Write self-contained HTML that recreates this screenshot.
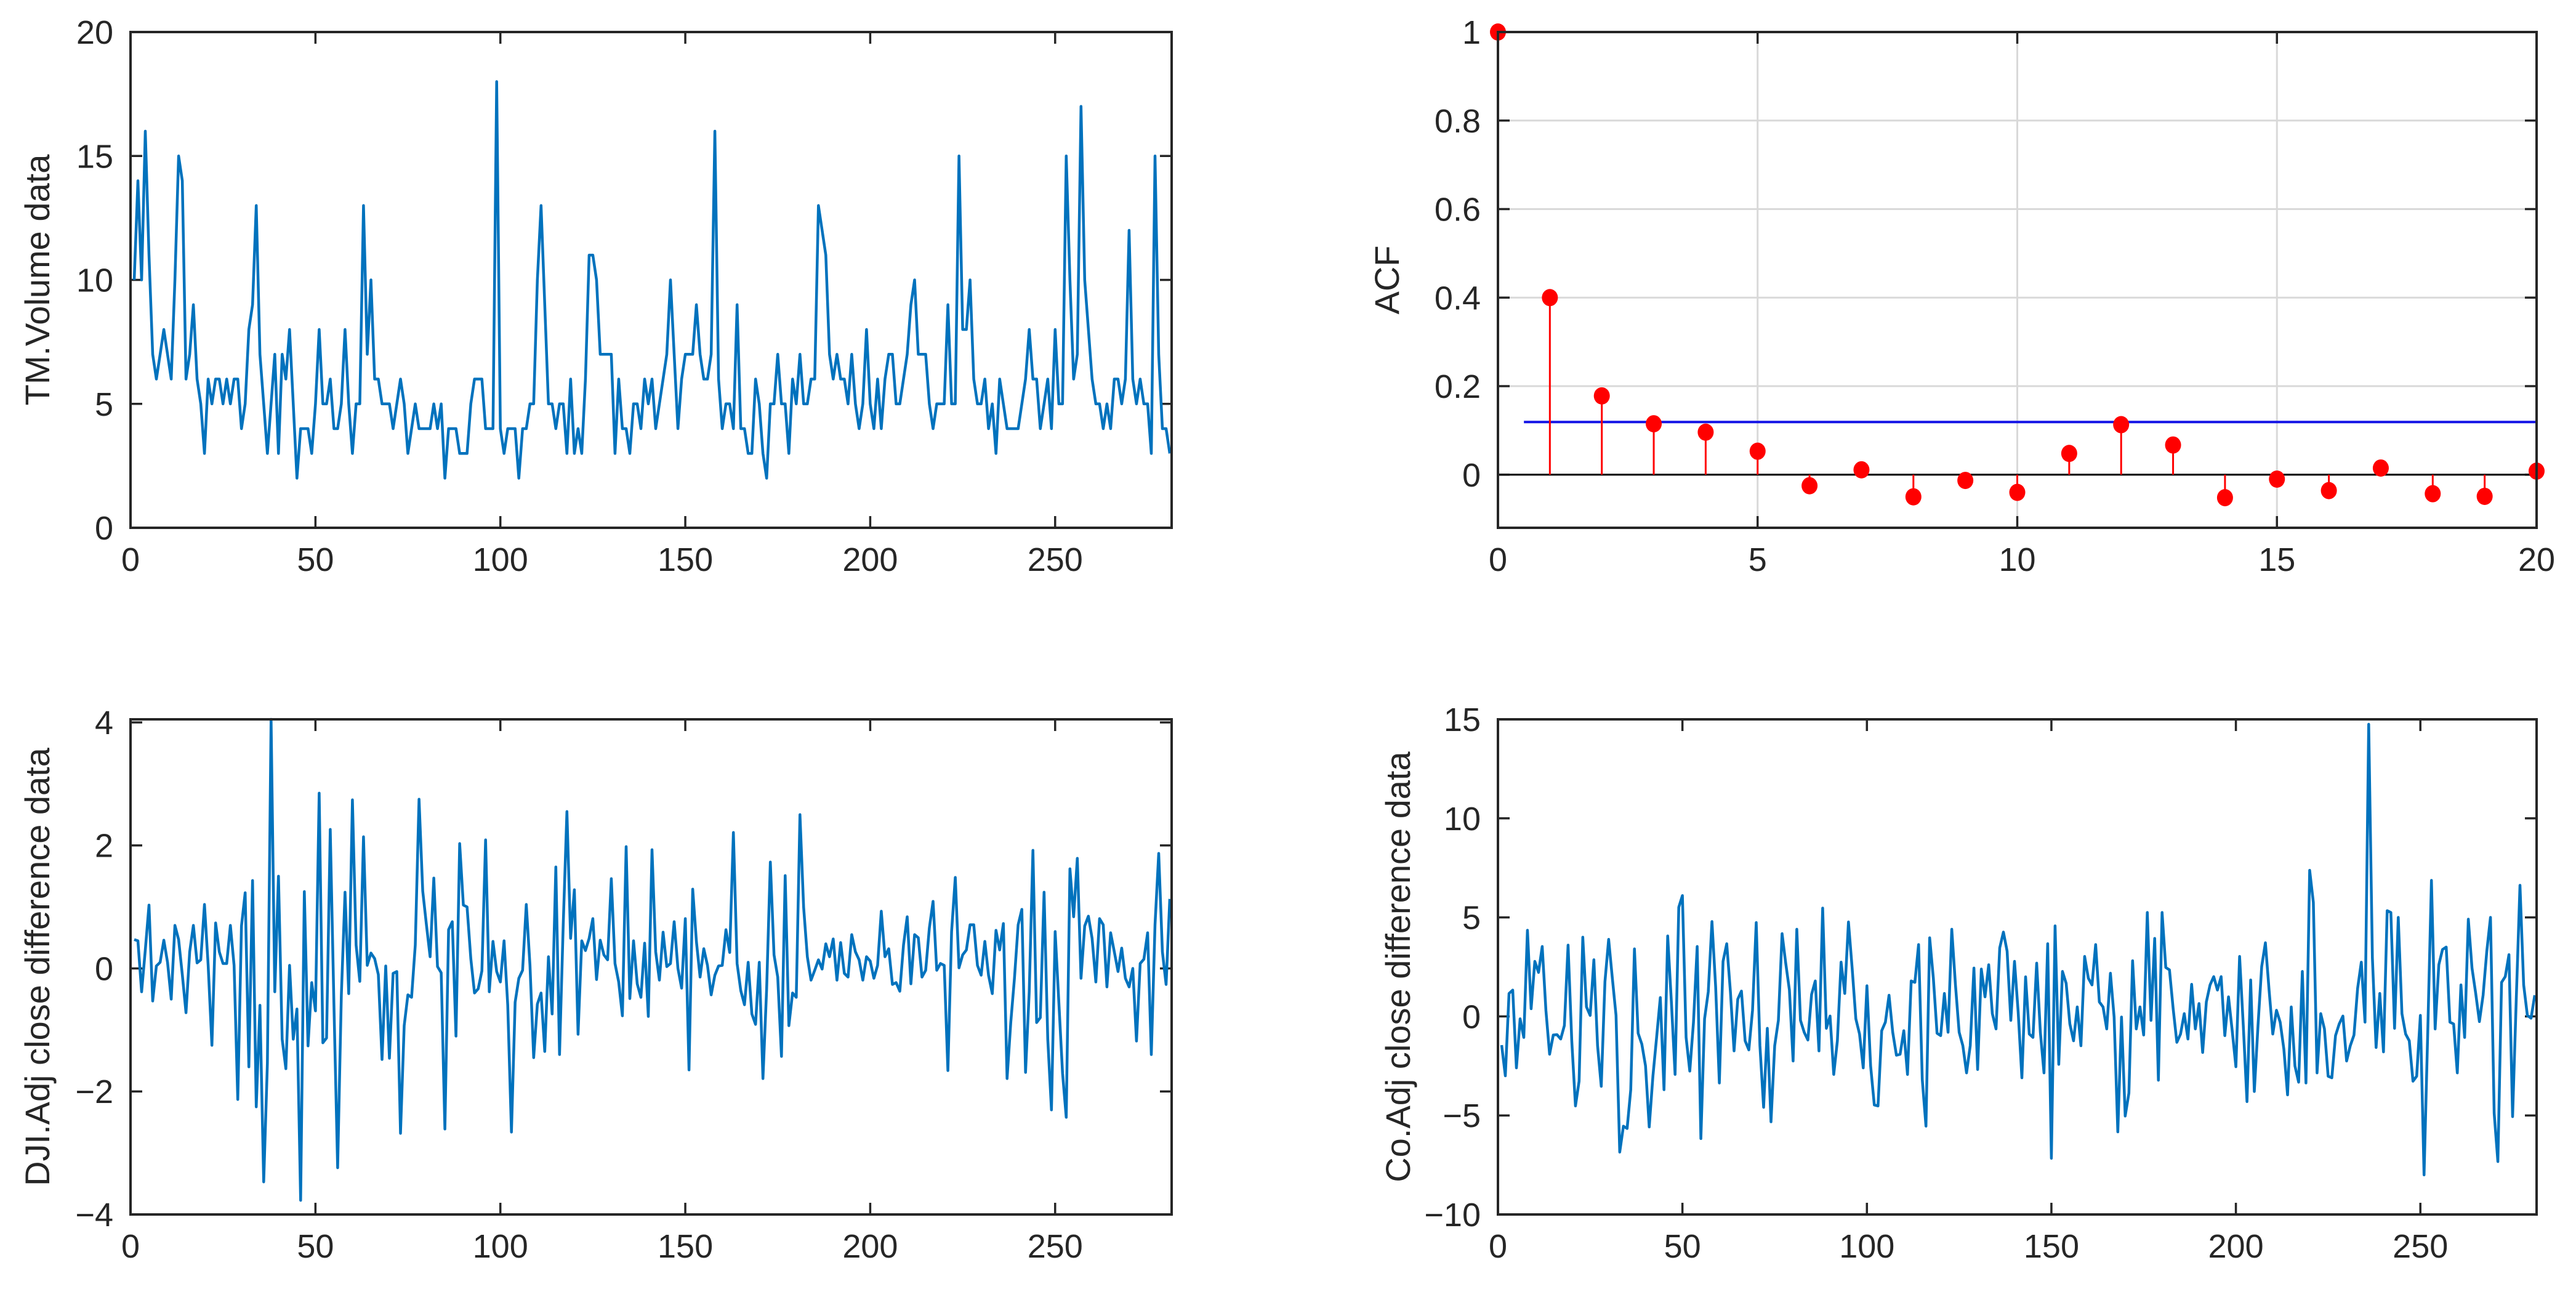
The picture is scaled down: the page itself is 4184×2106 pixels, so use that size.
<!DOCTYPE html>
<html><head><meta charset="utf-8"><style>
html,body{margin:0;padding:0;background:#fff;}
svg{display:block;}
text{font-family:"Liberation Sans",Arial,sans-serif;fill:#262626;}
</style></head><body>
<svg id="fig" width="4184" height="2106" viewBox="0 0 4184 2106" xmlns="http://www.w3.org/2000/svg">
<rect x="0" y="0" width="4184" height="2106" fill="#fff"/>
</svg>
<script>
// ---- data ----
const tmVolume = [10,14,10,16,11,7,6,7,8,7,6,10,15,14,6,7,9,6,5,3,6,5,6,6,5,6,5,6,6,4,5,8,9,13,7,5,3,5,7,3,7,6,8,5,2,4,4,4,3,5,8,5,5,6,4,4,5,8,5,3,5,5,13,7,10,6,6,5,5,5,4,5,6,5,3,4,5,4,4,4,4,5,4,5,2,4,4,4,3,3,3,5,6,6,6,4,4,4,18,4,3,4,4,4,2,4,4,5,5,10,13,9,5,5,4,5,5,3,6,3,4,3,6,11,11,10,7,7,7,7,3,6,4,4,3,5,5,4,6,5,6,4,5,6,7,10,7,4,6,7,7,7,9,7,6,6,7,16,6,4,5,5,4,9,4,4,3,3,6,5,3,2,5,5,7,5,5,3,6,5,7,5,5,6,6,13,12,11,7,6,7,6,6,5,7,5,4,5,8,5,4,6,4,6,7,7,5,5,6,7,9,10,7,7,7,5,4,5,5,5,9,5,5,15,8,8,10,6,5,5,6,4,5,3,6,5,4,4,4,4,5,6,8,6,6,4,5,6,4,8,5,5,15,10,6,7,17,10,8,6,5,5,4,5,4,6,6,5,6,12,6,5,6,5,5,3,15,7,4,4,3];
const djiDiff = [0.47,0.45,-0.38,0.3,1.03,-0.53,0.04,0.1,0.46,0.1,-0.5,0.7,0.47,-0.1,-0.72,0.27,0.7,0.09,0.14,1.04,0.05,-1.25,0.74,0.27,0.08,0.08,0.7,0.05,-2.13,0.69,1.23,-1.6,1.43,-2.25,-0.6,-3.47,-1.54,4.05,-0.38,1.5,-1.15,-1.63,0.05,-1.15,-0.66,-3.77,1.25,-1.26,-0.23,-0.69,2.85,-1.21,-1.13,2.26,-0.6,-3.24,-0.44,1.24,-0.41,2.74,0.38,-0.21,2.14,0.05,0.25,0.16,-0.1,-1.48,0.04,-1.46,-0.08,-0.05,-2.68,-0.93,-0.43,-0.47,0.38,2.75,1.26,0.71,0.19,1.47,0.03,-0.07,-2.61,0.63,0.76,-1.1,2.03,1.03,1.0,0.16,-0.4,-0.33,-0.04,2.09,-0.38,0.44,-0.05,-0.22,0.45,-0.6,-2.66,-0.55,-0.16,-0.03,1.04,0.05,-1.45,-0.58,-0.4,-1.35,0.19,-0.74,1.65,-1.4,0.71,2.55,0.49,1.28,-1.07,0.45,0.29,0.49,0.81,-0.18,0.46,0.22,0.14,1.46,0.08,-0.22,-0.77,1.98,-0.49,0.45,-0.25,-0.47,0.41,-0.78,1.93,0.27,-0.19,0.59,0.03,0.08,0.76,0,-0.32,0.81,-1.65,1.29,0.44,-0.14,0.32,0.05,-0.43,-0.11,0.04,0.05,0.63,0.26,2.21,0.08,-0.36,-0.59,0.1,-0.74,-0.91,0.1,-1.79,-0.33,1.73,0.22,-0.14,-1.43,1.51,-0.93,-0.4,-0.47,2.5,0.99,0.19,-0.19,-0.03,0.14,-0.01,0.4,0.19,0.48,-0.19,0.42,-0.08,-0.14,0.55,0.27,0.14,-0.19,0.19,0.12,-0.16,0.05,0.93,0.19,0.32,-0.26,-0.23,-0.37,0.38,0.84,-0.25,0.55,0.5,-0.14,-0.03,0.66,1.09,-0.03,0.08,0.05,-1.66,0.6,1.48,0.01,0.22,0.3,0.71,0.71,0.05,-0.11,0.44,-0.11,-0.41,0.62,0.3,0.73,-1.79,-0.88,-0.16,0.71,0.96,-1.69,-0.38,1.92,-0.88,-0.8,1.24,-1.15,-2.3,0.6,-0.55,-1.7,-2.42,1.62,0.84,1.79,-0.16,0.69,0.85,0.49,-0.22,0.81,0.71,-0.3,0.58,0.27,-0.05,0.33,-0.16,-0.3,0,-1.18,0.08,0.15,0.58,-1.4,0.71,1.87,0.27,-0.26,1.13];
const coDiff = [-1.45,-3.0,1.16,1.33,-2.6,-0.12,-1.06,4.35,0.39,2.78,2.22,3.53,0.31,-1.91,-0.94,-0.92,-1.14,-0.46,3.6,-1.23,-4.52,-3.27,4.0,0.48,0.05,2.86,-1.48,-3.53,1.76,3.89,1.93,0.05,-6.85,-5.54,-5.66,-3.7,3.41,-0.85,-1.4,-2.5,-5.58,-3.02,-1.06,0.95,-3.7,4.06,0.73,-2.93,5.51,6.1,-1.06,-2.76,-0.29,3.53,-6.17,-0.12,1.24,4.79,1.5,-3.36,2.78,3.67,1.24,-1.74,0.87,1.28,-1.23,-1.69,0.31,4.74,-1.48,-4.59,-0.6,-5.32,-1.48,-0.2,4.18,2.69,1.33,-2.25,4.4,-0.2,-0.8,-1.19,1.11,1.79,-1.74,5.47,-0.6,0.02,-2.93,-1.23,2.74,1.16,4.77,2.44,-0.12,-0.89,-2.6,1.55,-2.5,-4.47,-4.52,-0.72,-0.29,1.07,-0.8,-1.96,-1.91,-0.72,-2.93,1.79,1.72,3.63,-3.19,-5.54,3.97,1.93,-0.85,-0.97,1.16,-0.8,4.4,1.59,-0.8,-1.48,-2.85,-1.48,2.44,-2.68,2.39,0.99,2.61,0.14,-0.63,3.46,4.26,3.29,-0.2,2.78,0.2,-3.1,2.0,-0.89,-1.06,2.69,-0.8,-2.85,3.67,-7.16,4.57,-2.42,2.27,1.67,-0.38,-1.23,0.48,-1.48,3.03,1.93,1.59,3.63,0.73,0.48,-0.63,2.18,-0.03,-5.83,-0.03,-5.03,-3.87,2.81,-0.63,0.48,-0.94,5.25,-0.2,3.94,-3.22,5.25,2.47,2.35,0.39,-1.31,-0.89,0.14,-1.14,1.62,-0.63,0.65,-1.82,0.73,1.59,2.01,1.33,2.01,-0.97,0.99,-0.72,-2.54,3.03,-0.46,-4.3,1.84,-3.79,-0.46,2.52,3.72,1.33,-0.89,0.31,-0.29,-1.65,-3.96,0.48,-2.5,-3.32,2.27,-3.36,7.38,5.76,-2.85,0.14,-0.63,-3.02,-3.1,-0.97,-0.38,0.02,-2.25,-1.48,-0.94,1.42,2.74,-0.29,14.75,2.95,-1.57,1.16,-1.79,5.34,5.25,-0.6,5.0,0.14,-0.89,-1.23,-3.27,-3.02,0.05,-8.0,-0.8,6.87,-0.63,2.61,3.38,3.5,-0.29,-0.38,-2.85,1.59,-1.06,4.91,2.44,1.16,-0.26,1.07,3.29,5.0,-4.89,-7.33,1.72,2.01,3.12,-5.06,0.9,6.62,1.59,0.05,-0.09,1.07];
const acfLags = [0,1,2,3,4,5,6,7,8,9,10,11,12,13,14,15,16,17,18,19,20];
const acfValues = [1,0.40,0.178,0.115,0.096,0.053,-0.025,0.011,-0.05,-0.013,-0.04,0.048,0.113,0.067,-0.052,-0.01,-0.036,0.015,-0.043,-0.049,0.008];
const acfBound = 0.119;
const tsXTicks = [0,50,100,150,200,250];
const tmYTicks = [0,5,10,15,20];
const djiYTicks = [-4,-2,0,2,4];
const coYTicks = [-10,-5,0,5,10,15];
const acfXTicks = [0,5,10,15,20];
const acfYTicks = [0,0.2,0.4,0.6,0.8,1];

const NS = "http://www.w3.org/2000/svg";
const svg = document.getElementById('fig');
function mk(tag, attrs, parent){
  const e = document.createElementNS(NS, tag);
  for (const k in attrs) e.setAttribute(k, attrs[k]);
  (parent||svg).appendChild(e);
  return e;
}
const AX = '#262626';
function makeAxes(name, box, xlim, ylim, xticks, yticks, ylabel, ylabelX, grid){
  const g = mk('g', {});
  
  
  const sx = v => box.l + (v - xlim[0]) / (xlim[1]-xlim[0]) * (box.r - box.l);
  const sy = v => box.b - (v - ylim[0]) / (ylim[1]-ylim[0]) * (box.b - box.t);
  if (grid){
    xticks.forEach(t => { const l = mk('line', {x1:sx(t), x2:sx(t), y1:box.t, y2:box.b, stroke:'#d9d9d9', 'stroke-width':3}, g);
        });
    yticks.forEach(t => { const l = mk('line', {x1:box.l, x2:box.r, y1:sy(t), y2:sy(t), stroke:'#d9d9d9', 'stroke-width':3}, g);
        });
  }
  const TL = 19;
  xticks.forEach(t => {
    const x = sx(t);
    mk('line', {x1:x, x2:x, y1:box.b, y2:box.b-TL, stroke:AX, 'stroke-width':3.5}, g);
    mk('line', {x1:x, x2:x, y1:box.t, y2:box.t+TL, stroke:AX, 'stroke-width':3.5}, g);
    const tx = mk('text', {x:x, y:box.b+70, 'font-size':54, 'text-anchor':'middle'}, g);
    tx.textContent = t;
    
    
  });
  yticks.forEach(t => {
    const y = sy(t);
    mk('line', {x1:box.l, x2:box.l+TL, y1:y, y2:y, stroke:AX, 'stroke-width':3.5}, g);
    mk('line', {x1:box.r, x2:box.r-TL, y1:y, y2:y, stroke:AX, 'stroke-width':3.5}, g);
    const tx = mk('text', {x:box.l-28, y:y+19, 'font-size':54, 'text-anchor':'end'}, g);
    tx.textContent = String(t).replace('-', '\u2212');
    
    
  });
  const cy = (box.t+box.b)/2;
  const lab = mk('text', {x:0, y:0, 'font-size':56, 'text-anchor':'middle', transform:`translate(${ylabelX},${cy}) rotate(-90)`}, g);
  lab.textContent = ylabel;
  
  
  return {g, sx, sy};
}
function drawSeries(ax, name, values, startX){
  let d = '';
  values.forEach((v,i) => { d += (i?'L':'M') + ax.sx(i+startX).toFixed(1) + ',' + ax.sy(v).toFixed(1); });
  const p = mk('path', {d, fill:'none', stroke:'#0072BD', 'stroke-width':4.5, 'stroke-linejoin':'round'}, ax.g);
  
  
}
function drawBox(ax, box){
  const r = mk('rect', {x:box.l, y:box.t, width:box.r-box.l, height:box.b-box.t, fill:'none', stroke:AX, 'stroke-width':4}, ax.g);
  
  
}

const b1 = {l:212, r:1903, t:52, b:857};
const a1 = makeAxes('tm-volume-axes', b1, [0,281.5], [0,20], tsXTicks, tmYTicks, 'TM.Volume data', 80, false);
drawSeries(a1, 'tm-volume-line', tmVolume, 1);
drawBox(a1, b1);

const b2 = {l:2433, r:4120, t:52, b:857};
const a2 = makeAxes('acf-axes', b2, [0,20], [-0.12,1], acfXTicks, acfYTicks, 'ACF', 2272, true);
const zl = mk('line', {x1:a2.sx(0), x2:a2.sx(20), y1:a2.sy(0), y2:a2.sy(0), stroke:'#000', 'stroke-width':3}, a2.g);


const bl = mk('line', {x1:a2.sx(0.5), x2:a2.sx(20), y1:a2.sy(acfBound), y2:a2.sy(acfBound), stroke:'#1414e6', 'stroke-width':4}, a2.g);


acfLags.forEach((lag,i) => {
  const x = a2.sx(lag), y = a2.sy(acfValues[i]);
  const s = mk('line', {x1:x, x2:x, y1:a2.sy(0), y2:y, stroke:'#ff0000', 'stroke-width':3}, a2.g);
  
  
  const m = mk('ellipse', {cx:x, cy:y, rx:13, ry:14, fill:'#ff0000'}, a2.g);
  
  
});
drawBox(a2, b2);

const b3 = {l:212, r:1903, t:1168, b:1972};
const a3 = makeAxes('dji-diff-axes', b3, [0,281.5], [-4,4.05], tsXTicks, djiYTicks, 'DJI.Adj close difference data', 80, false);
drawSeries(a3, 'dji-diff-line', djiDiff, 1);
drawBox(a3, b3);

const b4 = {l:2433, r:4120, t:1168, b:1972};
const a4 = makeAxes('co-diff-axes', b4, [0,281.5], [-10,15], tsXTicks, coYTicks, 'Co.Adj close difference data', 2290, false);
drawSeries(a4, 'co-diff-line', coDiff, 1);
drawBox(a4, b4);
</script>
</body></html>
